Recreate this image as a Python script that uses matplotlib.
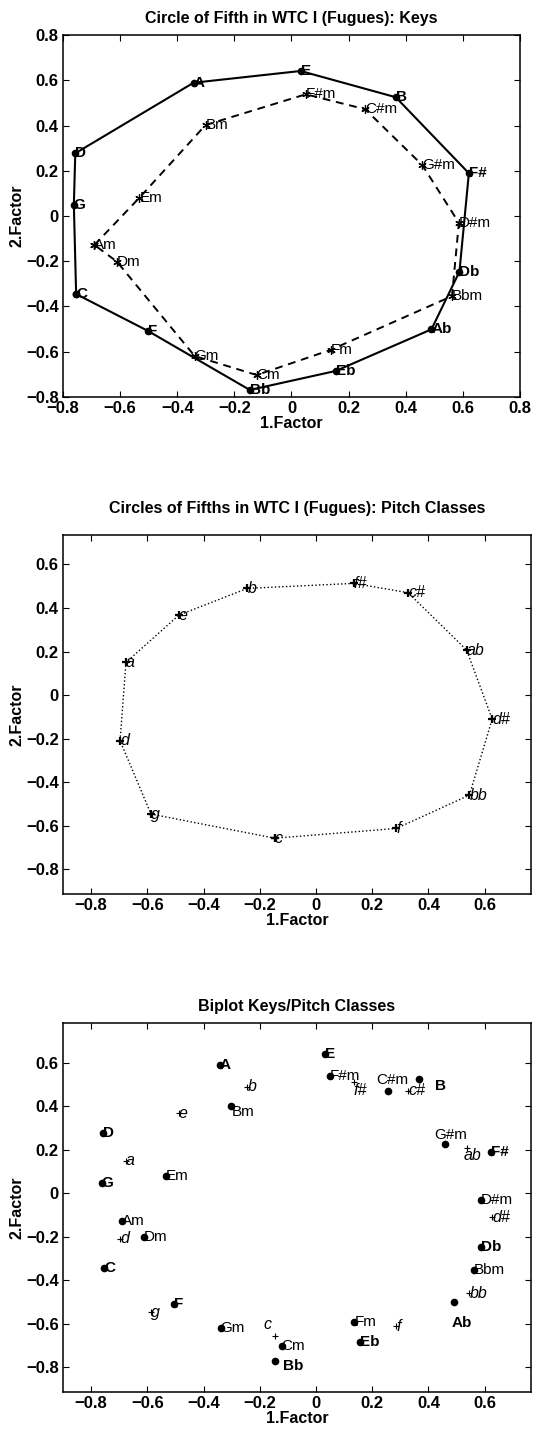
import matplotlib.pyplot as plt

plt.rcParams.update({
    "font.family": ["Liberation Sans", "DejaVu Sans"],
    "font.size": 11,
    "axes.linewidth": 1.1,
    "xtick.direction": "in",
    "ytick.direction": "in",
    "xtick.top": True,
    "ytick.right": True,
    "xtick.major.size": 4,
    "ytick.major.size": 4,
    "xtick.major.pad": 3,
    "ytick.major.pad": 3,
    "axes.unicode_minus": True,
})

# major keys (circle order)
MAJOR = ["C", "G", "D", "A", "E", "B", "F#", "Db", "Ab", "Eb", "Bb", "F"]
MAJOR_X = [-0.754, -0.762, -0.757, -0.343, 0.032, 0.365, 0.621, 0.588, 0.490, 0.155, -0.146, -0.504]
MAJOR_Y = [-0.345, 0.049, 0.277, 0.589, 0.641, 0.525, 0.189, -0.246, -0.501, -0.685, -0.769, -0.507]

# minor keys (circle order)
MINOR = ["Am", "Em", "Bm", "F#m", "C#m", "G#m", "D#m", "Bbm", "Fm", "Cm", "Gm", "Dm"]
MINOR_X = [-0.690, -0.533, -0.301, 0.050, 0.258, 0.458, 0.586, 0.562, 0.137, -0.122, -0.339, -0.611]
MINOR_Y = [-0.128, 0.080, 0.402, 0.538, 0.472, 0.225, -0.030, -0.354, -0.592, -0.703, -0.619, -0.202]

# pitch classes (circle order)
PITCH = ["c", "g", "d", "a", "e", "b", "f#", "c#", "ab", "d#", "bb", "f"]
PITCH_X = [-0.146, -0.587, -0.697, -0.676, -0.488, -0.244, 0.135, 0.328, 0.536, 0.627, 0.546, 0.286]
PITCH_Y = [-0.657, -0.546, -0.209, 0.150, 0.367, 0.490, 0.513, 0.470, 0.207, -0.110, -0.459, -0.612]

TICKS = [-0.8, -0.6, -0.4, -0.2, 0, 0.2, 0.4, 0.6, 0.8]

# label nudges in the biplot (data units)
BIPLOT_NUDGE = {
    "C#m": (-0.045, 0.05), "B": (0.06, -0.03), "G#m": (-0.036, 0.043),
    "Bm": (0.0, -0.03), "Ab": (-0.007, -0.095), "Bb": (0.027, -0.026),
    "f#": (0.0, -0.043), "ab": (-0.012, -0.035), "c": (-0.04, 0.055),
}


def closed(v):
    return list(v) + [v[0]]


def fmt_tick(v):
    return f"{v:g}".replace("-", "\u2212")


def style(ax, title, ticks, pad):
    ax.set_xticks(ticks)
    ax.set_yticks(ticks)
    ax.set_xticklabels([fmt_tick(t) for t in ticks])
    ax.set_yticklabels([fmt_tick(t) for t in ticks])
    ax.set_title(title, fontsize=11.5, fontweight="bold", pad=pad)
    ax.set_xlabel("1.Factor", fontsize=11.5, fontweight="bold", labelpad=0)
    ax.set_ylabel("2.Factor", fontsize=11.5, fontweight="bold", labelpad=1)
    for lab in ax.get_xticklabels() + ax.get_yticklabels():
        lab.set_fontweight("bold")
        lab.set_fontsize(12)


fig = plt.figure(figsize=(5.33, 14.29), dpi=100)

# ---------- panel 1: keys ----------
ax1 = fig.add_axes([0.1182, 0.7222, 0.8574, 0.2533])
ax1.plot(closed(MAJOR_X), closed(MAJOR_Y), "-", color="black", lw=1.5,
         marker="o", ms=4.5)
ax1.plot(closed(MINOR_X), closed(MINOR_Y), "--", color="black", lw=1.4,
         dashes=(4, 3), marker=(6, 2, 0), ms=6, mew=0.9)
for k, x, y in zip(MAJOR, MAJOR_X, MAJOR_Y):
    ax1.text(x, y, k, fontsize=11, fontweight="bold", ha="left", va="center")
for k, x, y in zip(MINOR, MINOR_X, MINOR_Y):
    ax1.text(x, y, k, fontsize=11, ha="left", va="center")
ax1.set_xlim(-0.8, 0.8)
ax1.set_ylim(-0.8, 0.8)
style(ax1, "Circle of Fifth in WTC I (Fugues): Keys", TICKS, 9)

# ---------- panel 2: pitch classes ----------
T2 = TICKS[:-1]
ax2 = fig.add_axes([0.1182, 0.3744, 0.878, 0.2512])
ax2.plot(closed(PITCH_X), closed(PITCH_Y), ":", color="black", lw=1.0,
         marker="+", ms=6, mew=1.6)
for k, x, y in zip(PITCH, PITCH_X, PITCH_Y):
    ax2.text(x, y, k, fontsize=11.5, style="italic", ha="left", va="center")
ax2.set_xlim(-0.9, 0.765)
ax2.set_ylim(-0.913, 0.735)
style(ax2, "Circles of Fifths in WTC I (Fugues): Pitch Classes", T2, 16)

# ---------- panel 3: biplot ----------
ax3 = fig.add_axes([0.1182, 0.0261, 0.878, 0.2578])
ax3.plot(MAJOR_X + MINOR_X, MAJOR_Y + MINOR_Y, "o", color="black", ms=4.5,
         ls="none")
ax3.plot(PITCH_X, PITCH_Y, "+", color="black", ms=5, mew=0.8, ls="none")
for k, x, y in zip(MAJOR, MAJOR_X, MAJOR_Y):
    dx, dy = BIPLOT_NUDGE.get(k, (0, 0))
    ax3.text(x + dx, y + dy, k, fontsize=11, fontweight="bold",
             ha="left", va="center")
for k, x, y in zip(MINOR, MINOR_X, MINOR_Y):
    dx, dy = BIPLOT_NUDGE.get(k, (0, 0))
    ax3.text(x + dx, y + dy, k, fontsize=11, ha="left", va="center")
for k, x, y in zip(PITCH, PITCH_X, PITCH_Y):
    dx, dy = BIPLOT_NUDGE.get(k, (0, 0))
    ax3.text(x + dx, y + dy, k, fontsize=11.5, style="italic",
             ha="left", va="center")
ax3.set_xlim(-0.9, 0.765)
ax3.set_ylim(-0.912, 0.781)
style(ax3, "Biplot Keys/Pitch Classes", T2, 9)

fig.savefig("out.png", dpi=100)
